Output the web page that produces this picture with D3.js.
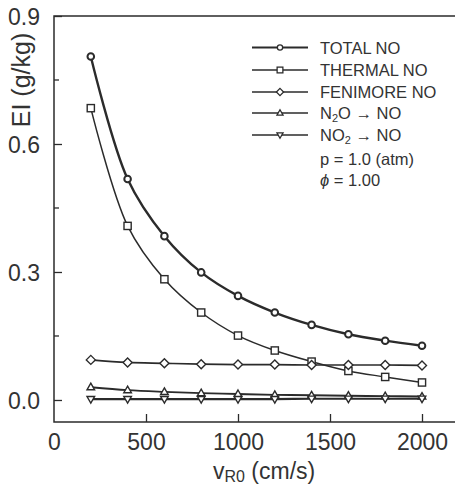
<!DOCTYPE html>
<html lang="en">
<head>
<meta charset="utf-8">
<title>EI vs vR0</title>
<script src="https://cdn.jsdelivr.net/npm/d3@7"></script>
<style>
  body { margin: 0; background: #fff; }
  text { font-family: "Liberation Sans", Arial, sans-serif; fill: #333; }
</style>
</head>
<body>
<script>
// data
var velocity = [200, 400, 600, 800, 1000, 1200, 1400, 1600, 1800, 2000];
var totalNO = [0.805, 0.518, 0.384, 0.299, 0.244, 0.205, 0.176, 0.154, 0.139, 0.127];
var thermalNO = [0.684, 0.408, 0.283, 0.205, 0.151, 0.116, 0.090, 0.068, 0.054, 0.041];
var fenimoreNO = [0.094, 0.088, 0.086, 0.084, 0.083, 0.083, 0.082, 0.082, 0.082, 0.081];
var n2oNO = [0.030, 0.023, 0.019, 0.016, 0.014, 0.012, 0.011, 0.010, 0.009, 0.008];
var no2NO = [0.002, 0.002, 0.002, 0.002, 0.002, 0.002, 0.003, 0.003, 0.003, 0.003];
var xTicks = [0, 500, 1000, 1500, 2000];
var yTicks = [0.0, 0.3, 0.6, 0.9];
var yMinor = [0.15, 0.45, 0.75];

var w = 455, h = 486;
var ink = "#2b2b2b";

var x = d3.scaleLinear().domain([0, 2200]).range([54, 458.8]);
var y = d3.scaleLinear().domain([-0.0516, 0.9]).range([422, 16]);

var svg = d3.select("body").append("svg")
  .attr("width", w).attr("height", h);

// frame (right side runs off the picture)
svg.append("path")
  .attr("d", "M" + w + "," + y(0.9) + "H" + x(0) + "V" + y(-0.0516) + "H" + w)
  .attr("fill", "none").attr("stroke", ink).attr("stroke-width", 1.5);

// y axis
var yAxis = d3.axisLeft(y).tickValues(yTicks).tickSize(-8).tickPadding(14)
  .tickFormat(d3.format(".1f"));
var gy = svg.append("g").attr("transform", "translate(" + x(0) + ",0)").call(yAxis);
gy.select(".domain").remove();
gy.selectAll(".tick line").attr("stroke", ink).attr("stroke-width", 1.3);
gy.selectAll(".tick text").attr("font-size", "23px").attr("fill", "#333")
  .attr("font-family", "Liberation Sans, Arial, sans-serif").attr("dy", "0.36em");

svg.append("g").selectAll("line").data(yMinor).enter().append("line")
  .attr("x1", x(0)).attr("x2", x(0) + 5)
  .attr("y1", function(d) { return y(d); }).attr("y2", function(d) { return y(d); })
  .attr("stroke", ink).attr("stroke-width", 1.3);

// x axis
var xAxis = d3.axisBottom(x).tickValues(xTicks).tickSize(-8).tickPadding(12)
  .tickFormat(d3.format("d"));
var gx = svg.append("g").attr("transform", "translate(0," + y(-0.0516) + ")").call(xAxis);
gx.select(".domain").remove();
gx.selectAll(".tick line").attr("stroke", ink).attr("stroke-width", 1.3)
  .attr("opacity", function(d) { return d === 0 ? 0 : 1; });
gx.selectAll(".tick text").attr("font-size", "23px").attr("fill", "#333")
  .attr("font-family", "Liberation Sans, Arial, sans-serif");

// axis titles
var xt = svg.append("text").attr("x", 213).attr("y", 479).attr("font-size", "23px");
xt.append("tspan").text("v");
xt.append("tspan").attr("font-size", "16px").attr("dy", 3).text("R0");
xt.append("tspan").attr("dy", -3).text(" (cm/s)");

svg.append("text")
  .attr("transform", "translate(30,80) rotate(-90)")
  .attr("text-anchor", "middle").attr("font-size", "25px")
  .text("EI (g/kg)");

// markers
function circle(g) { g.append("circle").attr("r", 3.3); }
function square(g) { g.append("rect").attr("x", -3.6).attr("y", -3.6).attr("width", 7.2).attr("height", 7.2); }
function diamond(g) { g.append("path").attr("d", "M0,-4.5L4.5,0L0,4.5L-4.5,0Z"); }
function triUp(g) { g.append("path").attr("d", "M0,-4L3.8,2.6H-3.8Z"); }
function triDown(g) { g.append("path").attr("d", "M0,4L3.8,-2.6H-3.8Z"); }

var series = [
  { name: "TOTAL NO", values: totalNO, marker: circle, width: 2.4 },
  { name: "THERMAL NO", values: thermalNO, marker: square, width: 1.5 },
  { name: "FENIMORE NO", values: fenimoreNO, marker: diamond, width: 1.7 },
  { name: "N2O", values: n2oNO, marker: triUp, width: 1.9 },
  { name: "NO2", values: no2NO, marker: triDown, width: 2.1 }
];

var line = d3.line()
  .x(function(d, i) { return x(velocity[i]); })
  .y(function(d) { return y(d); })
  .curve(d3.curveCatmullRom.alpha(0.5));

series.forEach(function(s) {
  svg.append("path").datum(s.values).attr("d", line)
    .attr("fill", "none").attr("stroke", ink).attr("stroke-width", s.width);
  svg.append("g").selectAll("g").data(s.values).enter().append("g")
    .attr("transform", function(d, i) { return "translate(" + x(velocity[i]) + "," + y(d) + ")"; })
    .each(function() { s.marker(d3.select(this)); })
    .selectAll("*").attr("fill", "#fff").attr("stroke", ink)
    .attr("stroke-width", s.width > 2.2 ? 2 : 1.4);
});

// legend
var legY = [47.5, 70, 92, 113, 135];
var leg = svg.append("g");
series.forEach(function(s, i) {
  leg.append("line").attr("x1", 252).attr("x2", 308)
    .attr("y1", legY[i]).attr("y2", legY[i])
    .attr("stroke", ink).attr("stroke-width", s.width > 2.2 ? 2.2 : 1.6);
  var m = leg.append("g").attr("transform", "translate(280," + legY[i] + ") scale(0.8)");
  s.marker(m);
  m.selectAll("*").attr("fill", "#fff").attr("stroke", ink).attr("stroke-width", 1.6);
});

function legText(i) {
  return leg.append("text").attr("x", 320).attr("y", legY[i] + 6).attr("font-size", "16.5px");
}
legText(0).text("TOTAL NO");
legText(1).text("THERMAL NO");
legText(2).text("FENIMORE NO");
var t3 = legText(3);
t3.append("tspan").text("N");
t3.append("tspan").attr("font-size", "11px").attr("dy", 3).text("2");
t3.append("tspan").attr("dy", -3).text("O \u2192 NO");
var t4 = legText(4);
t4.append("tspan").text("NO");
t4.append("tspan").attr("font-size", "11px").attr("dy", 3).text("2");
t4.append("tspan").attr("dy", -3).text(" \u2192 NO");
leg.append("text").attr("x", 320).attr("y", 165).attr("font-size", "16.5px").text("p = 1.0 (atm)");
var t6 = leg.append("text").attr("x", 320).attr("y", 186).attr("font-size", "16.5px");
t6.append("tspan").attr("font-style", "italic").text("\u03D5");
t6.append("tspan").text("  = 1.00");
</script>
</body>
</html>
